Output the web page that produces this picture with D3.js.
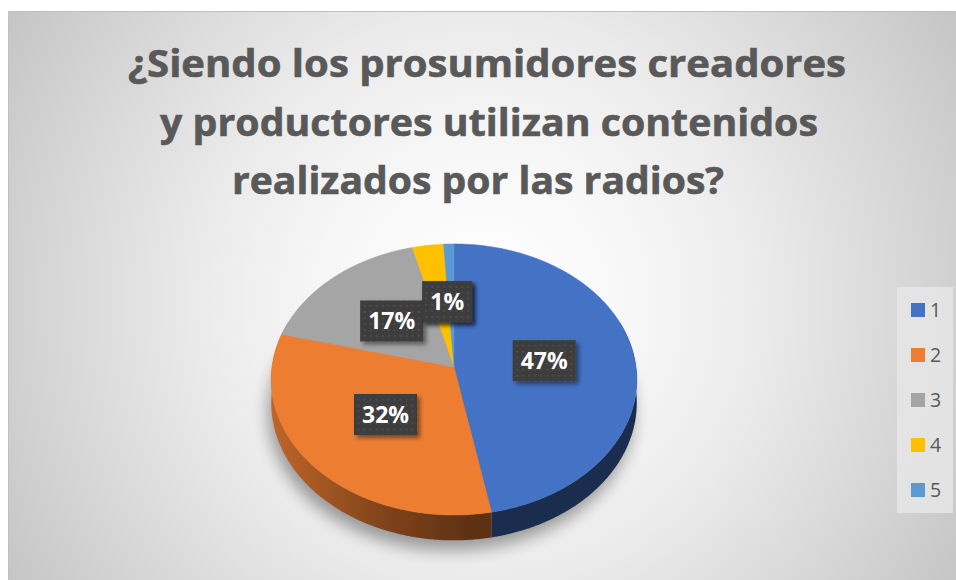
<!DOCTYPE html>
<html><head><meta charset="utf-8">
<script src="https://cdn.jsdelivr.net/npm/d3@7"></script>
<style>body{margin:0;background:#fff}svg{display:block}</style>
</head><body>
<script>
const categories = ["1","2","3","4","5"];
const values = [47, 32, 17, 3, 1];
const percentLabels = ["47%", "32%", "17%", "3%", "1%"];
const colors = ["#4472C4", "#ED7D31", "#A5A5A5", "#FFC000", "#5B9BD5"];
const titleLines = ["¿Siendo los prosumidores creadores", "y productores utilizan contenidos", "realizados por las radios?"];

const W = 956, H = 580;
const svg = d3.select("body").append("svg").attr("width", W).attr("height", H);
const defs = svg.append("defs");

// background gradient
const rg = defs.append("radialGradient").attr("id", "bg").attr("gradientUnits", "userSpaceOnUse")
  .attr("cx", 482).attr("cy", 300).attr("r", 560);
[[0, "#ffffff"], [0.27, "#f7f7f7"], [0.5, "#ebebeb"], [0.85, "#d0d0d0"], [1, "#c4c4c4"]]
  .forEach(([o, c]) => rg.append("stop").attr("offset", o).attr("stop-color", c));

svg.append("rect").attr("width", W).attr("height", H).attr("fill", "#fff");
svg.append("rect").attr("x", 8.5).attr("y", 11.5).attr("width", W).attr("height", H)
  .attr("fill", "url(#bg)").attr("stroke", "#c0c0c0");

// title
const title = svg.append("g").attr("font-family", "'Open Sans', sans-serif").attr("font-weight", 700)
  .attr("font-size", 38).attr("fill", "#595959").attr("stroke", "#595959").attr("stroke-width", 0.6)
  .attr("text-anchor", "middle");
const titleWidths = [718, 658, 492];
const titleX = [487, 489, 478];
titleLines.forEach((t, i) => {
  title.append("text").attr("x", titleX[i]).attr("y", 77 + i * 58.5)
    .attr("textLength", titleWidths[i]).attr("lengthAdjust", "spacingAndGlyphs").text(t);
});

// 3D pie
const cx = 454, cy = 367, A = 182, B = 134.4, k = 0.092, depth = 23;
function proj(theta, r, z) {
  const u = Math.sin(theta) * r, v = -Math.cos(theta) * r;
  const s = 1 / (1 - k * v);
  return [cx + A * u * s, cy + (B * v + z) * s];
}
const arcs = d3.pie().sort(null).value(d => d)(values);

function rimPoints(a0, a1, z) {
  const n = Math.max(2, Math.ceil((a1 - a0) / 0.01));
  const pts = [];
  for (let i = 0; i <= n; i++) pts.push(proj(a0 + (a1 - a0) * i / n, 1, z));
  return pts;
}
const line = d3.line();

// shadow
const sh = defs.append("filter").attr("id", "pieShadow").attr("x", "-30%").attr("y", "-30%").attr("width", "160%").attr("height", "160%");
sh.append("feGaussianBlur").attr("stdDeviation", 8);
svg.append("path").attr("d", line(rimPoints(0, 2 * Math.PI, depth)) + "Z")
  .attr("transform", "translate(-3,10)")
  .attr("fill", "#000").attr("opacity", 0.36).attr("filter", "url(#pieShadow)");

// side gradients
arcs.forEach((a, i) => {
  const g = defs.append("linearGradient").attr("id", "side" + i).attr("gradientUnits", "userSpaceOnUse")
    .attr("x1", cx - A).attr("x2", cx + A).attr("y1", 0).attr("y2", 0);
  const c = d3.color(colors[i]);
  [[0, 0.6], [0.3, 1.7], [0.55, 2.6], [1, 2.6]].forEach(([o, kk]) =>
    g.append("stop").attr("offset", o).attr("stop-color", c.darker(kk).formatHex()));
});

// side walls (front part)
const lo = Math.PI / 2 - 0.35, hi = 3 * Math.PI / 2 + 0.35;
const walls = svg.append("g");
arcs.forEach((a, i) => {
  const a0 = Math.max(a.startAngle, lo), a1 = Math.min(a.endAngle, hi);
  if (a1 <= a0) return;
  const top = rimPoints(a0, a1, 0), bot = rimPoints(a0, a1, depth).reverse();
  walls.append("path").attr("d", line(top.concat(bot)) + "Z").attr("fill", "url(#side" + i + ")");
});

// top faces
const tops = svg.append("g");
arcs.forEach((a, i) => {
  const pts = [[cx, cy]].concat(rimPoints(a.startAngle, a.endAngle, 0));
  tops.append("path").attr("d", line(pts) + "Z").attr("fill", colors[i])
    .attr("stroke", colors[i]).attr("stroke-width", 0.5);
});

// labels
const pat = defs.append("pattern").attr("id", "dots").attr("width", 6).attr("height", 6).attr("patternUnits", "userSpaceOnUse");
pat.append("rect").attr("width", 6).attr("height", 6).attr("fill", "#3c3c3c");
pat.append("circle").attr("cx", 3).attr("cy", 3).attr("r", 0.9).attr("fill", "#545454");
const ds = defs.append("filter").attr("id", "lblShadow").attr("x", "-30%").attr("y", "-30%").attr("width", "160%").attr("height", "160%");
ds.append("feDropShadow").attr("dx", 3).attr("dy", 3).attr("stdDeviation", 2).attr("flood-color", "#000").attr("flood-opacity", 0.45);

const labelPos = arcs.map(a => proj((a.startAngle + a.endAngle) / 2, 0.5, 0));
// small slices: Excel stacks the 3% label under the 1% one
labelPos[4] = [labelPos[4][0] - 4, labelPos[4][1] - 1];
labelPos[3] = labelPos[4].slice();
const labels = svg.append("g");
[0, 1, 2, 3, 4].forEach(i => {
  const [x, y] = labelPos[i];
  const g = labels.append("g").attr("transform", `translate(${x},${y})`);
  const r = g.append("rect").attr("fill", "url(#dots)").attr("filter", "url(#lblShadow)");
  const t = g.append("text").attr("text-anchor", "middle").attr("dy", "0.36em")
    .attr("font-family", "'Open Sans', sans-serif").attr("font-weight", 700).attr("font-size", 23)
    .attr("fill", "#fff").text(percentLabels[i]);
  const tw = t.node().getComputedTextLength();
  const bw = tw + 16, bh = 41;
  r.attr("x", -bw / 2).attr("y", -bh / 2).attr("width", bw).attr("height", bh);
});

// legend
const leg = svg.append("g");
leg.append("rect").attr("x", 897).attr("y", 287).attr("width", 56).attr("height", 226).attr("fill", "#e6e6e6").attr("opacity", 0.85);
const ly = d3.scalePoint().domain(categories).range([310, 490]);
categories.forEach((c, i) => {
  leg.append("rect").attr("x", 911).attr("y", ly(c) - 7).attr("width", 14).attr("height", 14).attr("fill", colors[i]);
  leg.append("text").attr("x", 930).attr("y", ly(c)).attr("dy", "0.36em")
    .attr("font-family", "'Open Sans', sans-serif").attr("font-size", 19.5).attr("fill", "#595959").text(c);
});
</script>
</body></html>
